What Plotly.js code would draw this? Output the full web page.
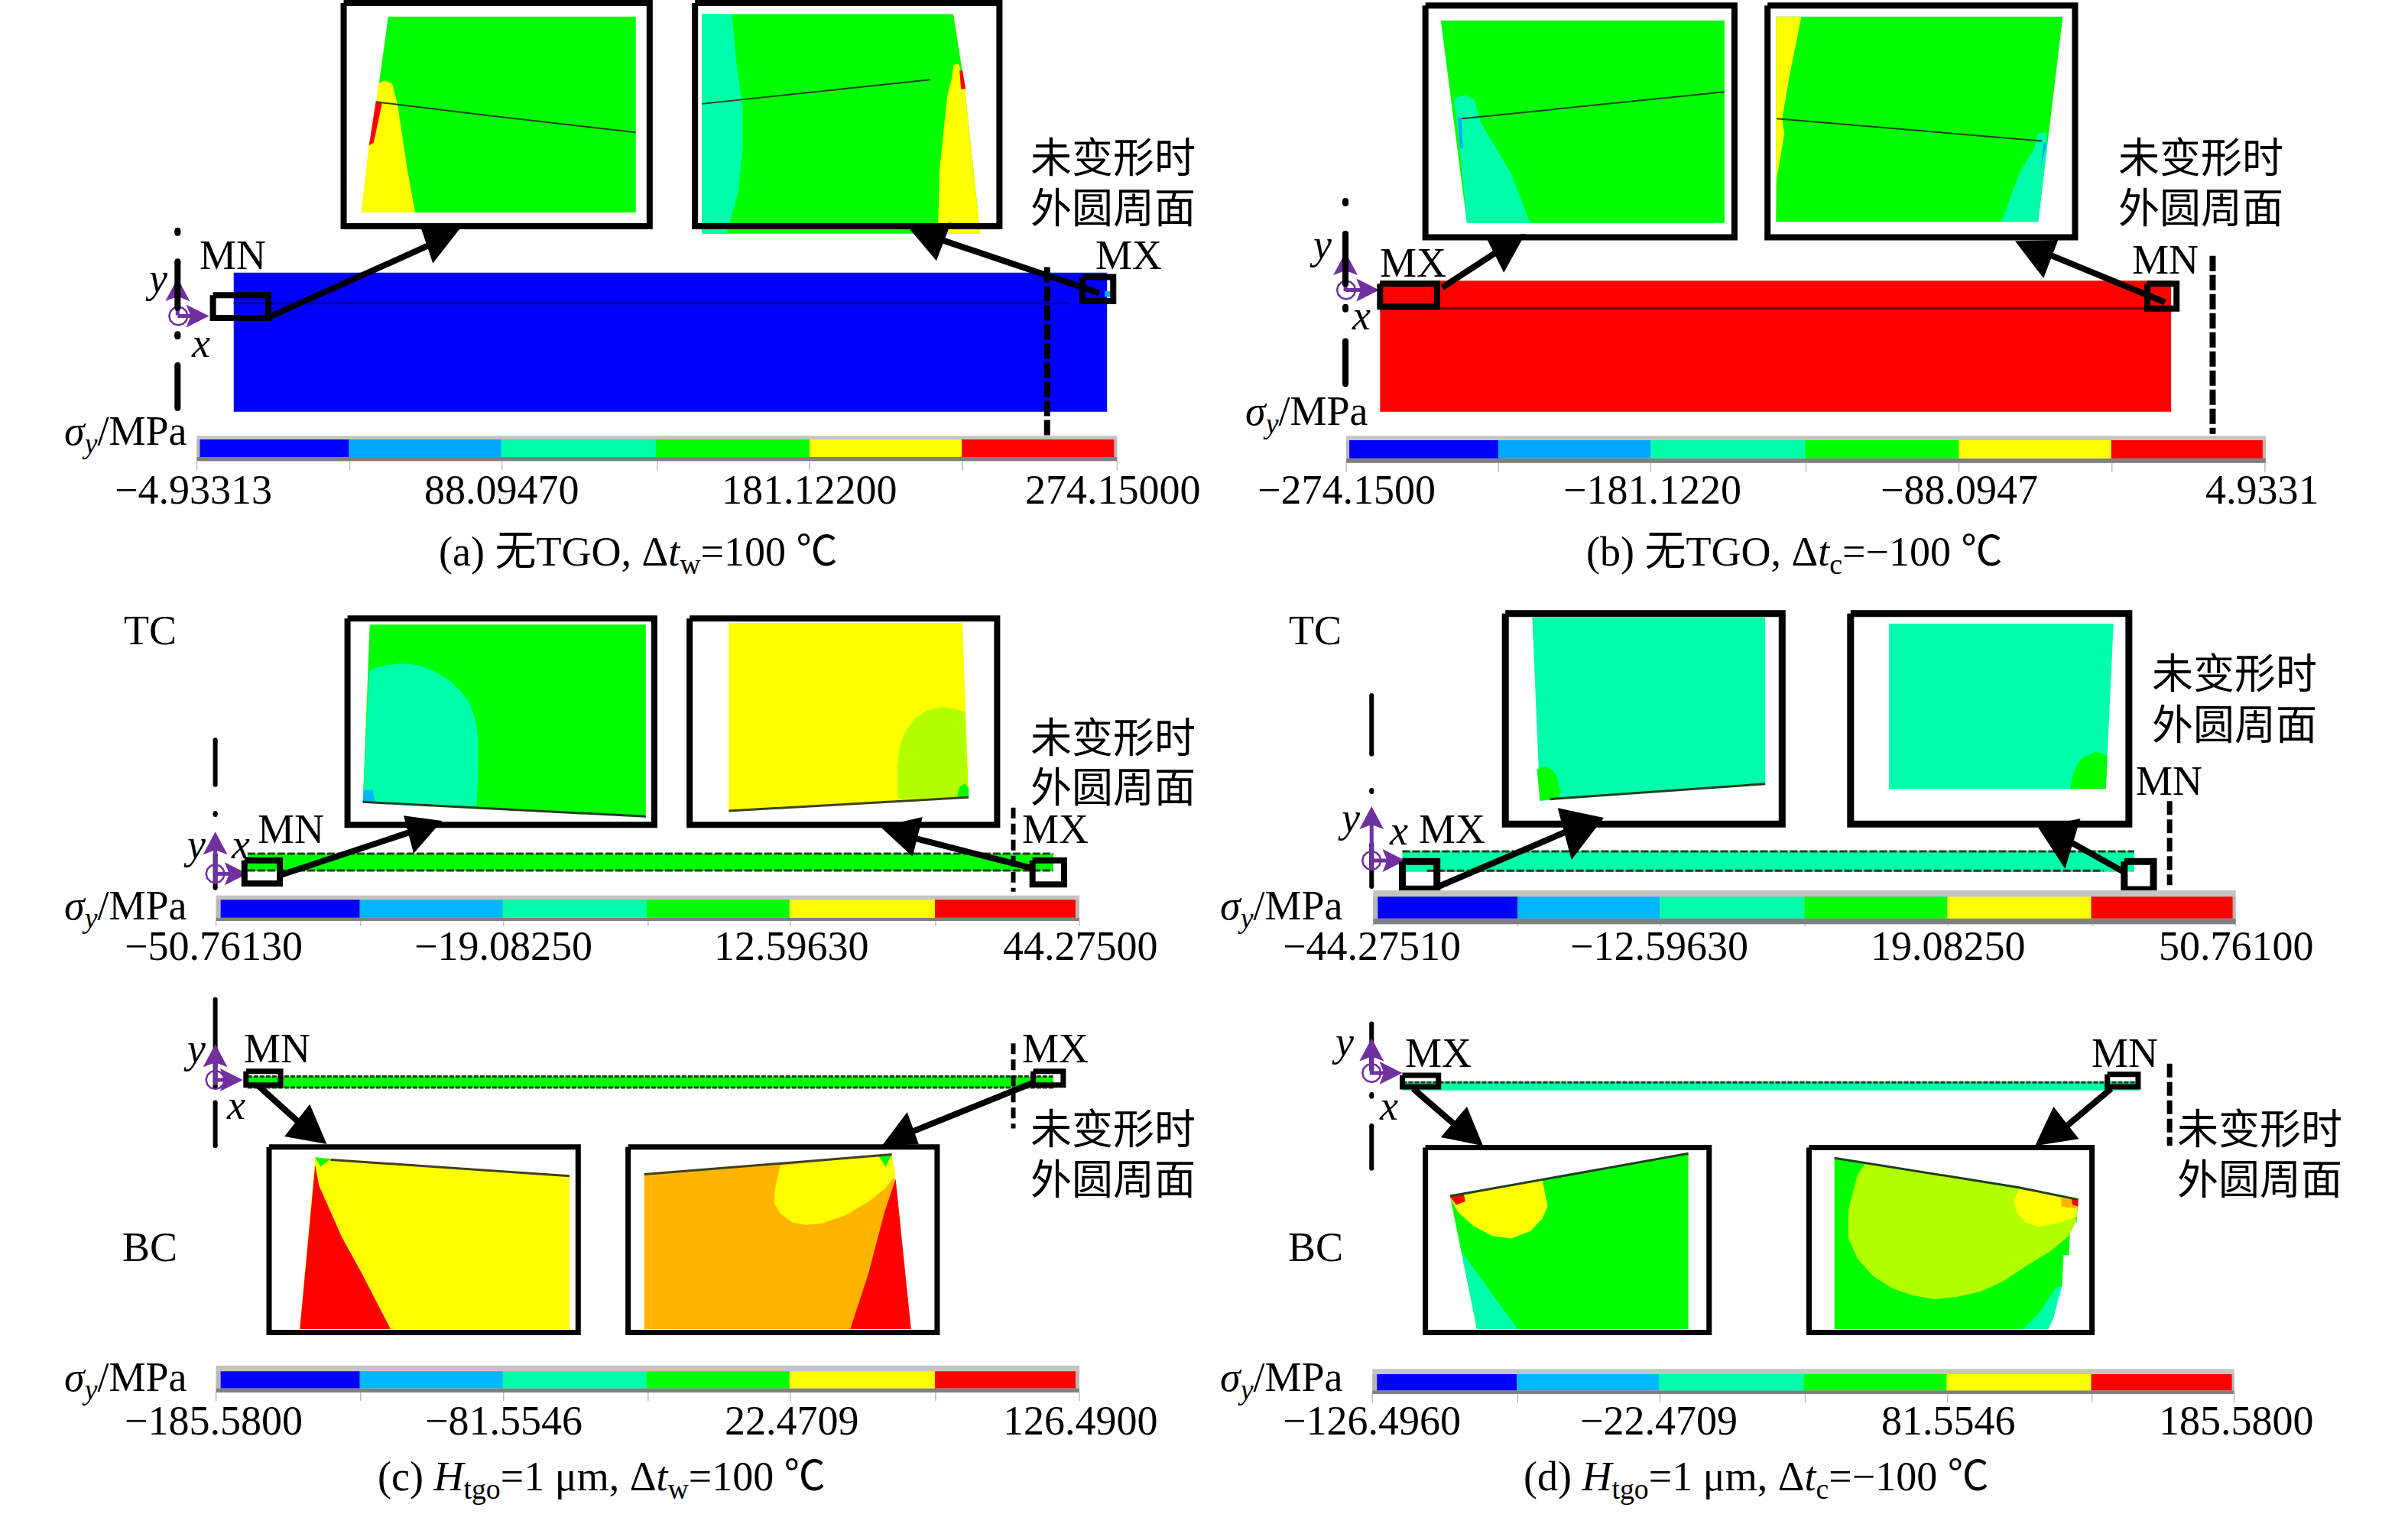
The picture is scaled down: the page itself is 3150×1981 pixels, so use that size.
<!DOCTYPE html>
<html><head><meta charset="utf-8">
<script src="https://cdn.plot.ly/plotly-3.0.1.min.js"></script>
<style>html,body{margin:0;padding:0;background:#fff}</style></head>
<body><div id="chart" style="width:3150px;height:1981px"></div>
<script>
// ---------- colours of the legend bands ----------
const BLUE='#0000ff',SKY='#00a8ff',SKY2='#00b6ff',TEAL='#00ffaa',GREEN='#00ff00',YEL='#ffff00',RED='#ff0000',LIME='#b2ff00',ORG='#ffb400';
const bandColorsA=[BLUE,SKY,TEAL,GREEN,YEL,RED];
const bandColorsC=[BLUE,SKY2,TEAL,GREEN,YEL,RED];
// ---------- tick labels ----------
const ticksA=['−4.93313','88.09470','181.12200','274.15000'];
const ticksB=['−274.1500','−181.1220','−88.0947','4.9331'];
const ticksCt=['−50.76130','−19.08250','12.59630','44.27500'];
const ticksDt=['−44.27510','−12.59630','19.08250','50.76100'];
const ticksCb=['−185.5800','−81.5546','22.4709','126.4900'];
const ticksDb=['−126.4960','−22.4709','81.5546','185.5800'];
// ---------- contour regions (crop coordinates) ----------
// panel a
const a1Green=[[505,45],[827,45],[827,573],[470,573],[490,270]];
const a1Yellow=[[492,225],[500,217],[510,225],[517,280],[530,460],[540,573],[470,573],[480,390],[490,270]];
const a1Red=[[489,272],[497,278],[486,385],[480,392]];
const a1Seam=[[490,275],[630,310],[827,357]];
const a2Green=[[913,38],[1240,38],[1250,170],[1255,240],[1275,630],[913,630]];
const a2Teal=[[913,38],[952,38],[958,170],[966,290],[966,400],[960,520],[945,630],[913,630]];
const a2Yellow=[[1240,175],[1247,172],[1251,200],[1255,240],[1275,630],[1220,630],[1222,460],[1232,260],[1238,210]];
const a2Red=[[1248,190],[1252,190],[1256,240],[1250,240]];
const a2Seam=[[913,280],[1210,215]];
const aBody=[[304,735],[1440,735],[1440,1110],[304,1110]];
const aSeam=[[304,818],[1390,818]];
const aSliver=[[1437,785],[1447,785],[1447,800],[1437,800]];
// panel b
const b1Green=[[308,55],[677,55],[677,601],[342,601]];
const b1Teal=[[325,265],[340,256],[352,270],[360,330],[400,470],[424,601],[342,601],[333,400]];
const b1Blue=[[330,315],[335,320],[337,400],[333,400]];
const b1Seam=[[335,320],[677,248]];
const b2Green=[[744,45],[1117,45],[1085,598],[744,598]];
const b2Yellow=[[744,45],[777,45],[762,200],[752,320],[755,360],[745,480],[744,598]];
const b2Teal=[[1085,360],[1095,356],[1097,390],[1085,598],[1037,598],[1060,470],[1080,400]];
const b2Blue=[[1092,385],[1096,385],[1088,460]];
const b2Seam=[[745,320],[1090,380]];
const bBody=[[229,757],[1258,757],[1258,1110],[229,1110]];
const bSeam=[[229,832],[1258,832]];
// panel c, TC
const c1Green=[[481,142],[840,142],[840,898],[472,838]];
const c1Teal=[[480,325],[488,312],[500,302],[520,295],[537,298],[552,308],[570,333],[585,362],[598,400],[610,445],[618,510],[622,580],[622,700],[620,855],[472,838],[476,600]];
const c1Sky=[[473,792],[485,792],[488,838],[472,838]];
const c1Seam=[[472,838],[840,895]];
const c2Yellow=[[948,135],[1252,135],[1260,820],[948,875]];
const c2Lime=[[1168,825],[1167,700],[1170,620],[1178,560],[1190,510],[1205,480],[1225,465],[1240,470],[1255,485],[1260,820]];
const c2Green=[[1245,820],[1248,780],[1255,765],[1260,785],[1260,818]];
const c2Seam=[[948,873],[1260,820]];
const cBody=[[322,1040],[1370,1040],[1370,1110],[322,1110]];
const cTop=[[322,1041],[1370,1041]];
const cBot=[[322,1107],[1370,1107]];
// panel d, TC
const d1Teal=[[427,113],[730,113],[730,765],[437,833]];
const d1Green=[[433,710],[438,702],[445,700],[452,712],[458,730],[464,800],[460,825],[437,833]];
const d1Seam=[[450,827],[730,767]];
const d2Teal=[[891,138],[1183,138],[1173,787],[891,787]];
const d2Green=[[1127,787],[1130,730],[1137,685],[1145,660],[1160,642],[1170,650],[1175,660],[1173,787]];
const dBody=[[258,1030],[1210,1030],[1210,1112],[258,1112]];
const dTop=[[258,1032],[1210,1032]];
const dBot=[[290,1108],[1170,1108]];
// panel c, BC
const c3Yellow=[[410,538],[741,592],[741,1033],[390,1033]];
const c3Red=[[410,560],[415,620],[445,770],[470,870],[508,1033],[390,1033]];
const c3Green=[[410,538],[430,543],[417,565]];
const c3Seam=[[430,545],[741,592]];
const c4Orange=[[838,587],[1160,530],[1185,1033],[838,1033]];
const c4Yellow=[[1015,562],[1160,530],[1165,590],[1150,630],[1130,665],[1100,705],[1070,728],[1048,733],[1030,725],[1015,700],[1007,670],[1008,630],[1012,590]];
const c4Red=[[1165,600],[1185,1033],[1106,1033],[1130,870],[1150,700]];
const c4Green=[[1142,532],[1160,530],[1152,565]];
const c4Seam=[[838,587],[1160,530]];
const ceBody=[[322,305],[1370,305],[1370,338],[322,338]];
const ceTop=[[322,305],[1370,305]];
const ceBot=[[322,337],[1370,337]];
// panel d, BC
const d3Green=[[320,650],[440,600],[630,527],[630,1033],[355,1033]];
const d3Yellow=[[320,655],[440,602],[447,680],[440,715],[425,750],[400,772],[375,765],[350,735],[330,695]];
const d3Red=[[320,652],[338,645],[340,665],[328,675]];
const d3Teal=[[335,810],[408,1033],[355,1033]];
const d3Seam=[[320,650],[440,603],[630,527]];
const d4Green=[[820,540],[1060,625],[1137,660],[1135,725],[1127,730],[1125,820],[1118,820],[1116,910],[1108,915],[1105,1000],[1098,1033],[820,1033]];
const d4Lime=[[860,555],[1060,625],[1122,660],[1135,720],[1125,765],[1100,810],[1070,850],[1040,895],[1010,925],[980,940],[950,947],[920,935],[895,915],[870,880],[850,830],[838,770],[838,690],[845,630],[850,590]];
const d4Yellow=[[1060,630],[1137,655],[1135,710],[1110,728],[1085,738],[1068,725],[1057,695],[1053,665]];
const d4Orange=[[1115,655],[1135,660],[1135,685],[1115,680]];
const d4Red=[[1128,655],[1137,660],[1137,680],[1130,675]];
const d4Teal=[[1108,915],[1116,910],[1105,1000],[1098,1033],[1065,1033],[1085,990]];
const d4Seam=[[820,540],[1060,625],[1137,660]];
const deBody=[[258,320],[1217,320],[1217,345],[258,345]];
const deTop=[[258,322],[1217,322]];

// ---------- crops the coordinates were read in ----------
const S=1.0057;
const C1={ox:0,oy:0,sy:.4853},C2={ox:1575,oy:0,sy:.4853};
const C3={ox:0,oy:770,sy:1/3},C4={ox:1575,oy:770,sy:1/3};
const C5={ox:0,oy:1270,sy:.454},C6={ox:1575,oy:1270,sy:.454};
const traces=[],notes=[];
const FONT='"Liberation Serif","Noto Sans CJK SC",serif';
const px=(c,x)=>c.ox+x*S, py=(c,y)=>c.oy+y*c.sy;
function poly(c,pts,col){traces.push({type:'scatter',mode:'lines',x:[...pts.map(p=>px(c,p[0])),px(c,pts[0][0])],y:[...pts.map(p=>py(c,p[1])),py(c,pts[0][1])],fill:'toself',fillcolor:col,line:{width:0,color:col},hoverinfo:'skip',showlegend:false});}
function line(c,pts,col,w,dash){traces.push({type:'scatter',mode:'lines',x:pts.map(p=>px(c,p[0])),y:pts.map(p=>py(c,p[1])),line:{color:col,width:w,dash:dash||'solid'},hoverinfo:'skip',showlegend:false});}
function seg(c,pts,w){traces.push({type:'scatter',mode:'lines+markers',x:pts.map(p=>px(c,p[0])),y:pts.map(p=>py(c,p[1])),line:{color:'#000',width:w},marker:{color:'#000',size:w,line:{width:0}},hoverinfo:'skip',showlegend:false});}
function box(c,x0,y0,x1,y1,w){line(c,[[x0,y0],[x1,y0],[x1,y1],[x0,y1],[x0,y0]],'#000',w);}
function txt(c,x,y,t,size){notes.push({xref:'x',yref:'y',x:px(c,x),y:py(c,y),text:t,showarrow:false,xanchor:'center',yanchor:'middle',font:{family:FONT,size:size||54,color:'#000'}});}
function arrow(c,from,to,head,w){line(c,[from,to],'#000',w||8);poly(c,head,'#000');}
function bar(c,x0,y0,x1,y1,by0,by1,edges,colors,tickX,tickEnd,labX,labY,labels){
  poly(c,[[x0,y0],[x1,y0],[x1,y1],[x0,y1]],'#c4c4c0');
  poly(c,[[x0,by1],[x1,by1],[x1,y1],[x0,y1]],'#808080');
  poly(c,[[x0,by0],[x1,by0],[x1,by1],[x0,by1]],'#b8b8b8');
  colors.forEach((col,i)=>poly(c,[[edges[i],by0],[edges[i+1],by0],[edges[i+1],by1],[edges[i],by1]],col));
  tickX.forEach(t=>line(c,[[t,y1],[t,tickEnd]],'#bdbdbd',1.5));
  labels.forEach((l,i)=>txt(c,labX[i],labY,l));
}
const ID={ox:0,oy:0,sy:1};
function rawPoly(pts,col){traces.push({type:'scatter',mode:'lines',x:[...pts.map(p=>p[0]),pts[0][0]],y:[...pts.map(p=>p[1]),pts[0][1]],fill:'toself',fillcolor:col,line:{width:0,color:col},hoverinfo:'skip',showlegend:false});}
function rawLine(pts,col,w){traces.push({type:'scatter',mode:'lines',x:pts.map(p=>p[0]),y:pts.map(p=>p[1]),line:{color:col,width:w},hoverinfo:'skip',showlegend:false});}
function purple(c,x,yc,yTop,xEnd,xc,cy){const P='#7030a0';
  const X=px(c,x),Yc=py(c,yc),Yt=py(c,yTop),Xe=px(c,xEnd),Xc=px(c,xc),Cy=py(c,cy);
  rawLine([[X,Yc],[X,Yt+20]],P,5);
  rawPoly([[X,Yt],[X+16,Yt+30],[X,Yt+24],[X-16,Yt+30]],P);
  rawLine([[X,Cy],[Xe-20,Cy]],P,5);
  rawPoly([[Xe,Cy],[Xe-30,Cy-15],[Xe-24,Cy],[Xe-30,Cy+15]],P);
  const r=12,ell=[[Xc+12,Cy],[Xc+10.4,Cy+6],[Xc+6,Cy+10.4],[Xc,Cy+12],[Xc-6,Cy+10.4],[Xc-10.4,Cy+6],[Xc-12,Cy],[Xc-10.4,Cy-6],[Xc-6,Cy-10.4],[Xc,Cy-12],[Xc+6,Cy-10.4],[Xc+10.4,Cy-6],[Xc+12,Cy]];
  rawLine(ell,P,2.5);
}
const tips=['未变形时','外圆周面'];
const sig='<i>σ</i><sub><i>y</i></sub>/MPa';
const CAP=54;

// ---- panel a ----
[[a1Green,GREEN],[a1Yellow,YEL],[a1Red,RED]].forEach(d=>poly(C1,d[0],d[1]));line(C1,a1Seam,'#204020',2);
[[a2Green,GREEN],[a2Teal,TEAL],[a2Yellow,YEL],[a2Red,RED]].forEach(d=>poly(C1,d[0],d[1]));line(C1,a2Seam,'#204020',2);
box(C1,447,8,845,610,8);box(C1,904,8,1300,610,8);
poly(C1,aBody,BLUE);line(C1,aSeam,'#0000a0',3);poly(C1,aSliver,SKY);
line(C1,[[1362,720],[1362,1185]],'#000',8,'20px,5px');
purple(C1,231,850,750,272,232,852);
[[[231,622],[231,628]],[[231,705],[231,830]],[[231,901],[231,907]],[[231,985],[231,1100]]].forEach(s=>seg(C1,s,8));
box(C1,277,796,349,857,8);box(C1,1408,747,1448,812,8);
arrow(C1,[350,855],[570,650],[[548,617],[598,617],[563,710]]);
arrow(C1,[1430,790],[1215,640],[[1183,617],[1237,600],[1218,703]]);
txt(C1,303,688,'MN');txt(C1,1468,688,'MX');txt(C1,203,750,'<i>y</i>');txt(C1,261,925,'<i>x</i>');
txt(C1,163,1170,sig);txt(C1,1448,428,tips[0]);txt(C1,1448,565,tips[1]);
bar(C1,256,1175,1453,1243,1185,1232,[260,454,652,853,1053,1251,1449],bandColorsA,[256,455,653,855,1053,1252,1453],1268,[252,653,1053,1448],1320,ticksA);
txt(C1,830,1495,'(a) 无TGO, Δ<i>t</i><sub>w</sub>=100 ℃',CAP);

// ---- panel b ----
[[b1Green,GREEN],[b1Teal,TEAL],[b1Blue,SKY]].forEach(d=>poly(C2,d[0],d[1]));line(C2,b1Seam,'#204020',2);
[[b2Green,GREEN],[b2Yellow,YEL],[b2Teal,TEAL],[b2Blue,SKY]].forEach(d=>poly(C2,d[0],d[1]));line(C2,b2Seam,'#204020',2);
box(C2,288,15,690,640,8);box(C2,733,15,1133,640,8);
poly(C2,bBody,RED);line(C2,bSeam,'#800000',3);
line(C2,[[1312,690],[1312,1170]],'#000',8,'20px,5px');
purple(C2,184,785,680,228,185,782);
[[[184,542],[184,548]],[[184,630],[184,765]],[[184,828],[184,834]],[[184,920],[184,1035]]].forEach(s=>seg(C2,s,8));
box(C2,229,765,303,827,8);box(C2,1227,765,1265,832,8);
arrow(C2,[310,775],[395,660],[[368,645],[418,630],[390,735]]);
arrow(C2,[1250,815],[1080,670],[[1055,650],[1111,647],[1092,750]]);
txt(C2,272,708,'MX');txt(C2,1250,700,'MN');txt(C2,152,660,'<i>y</i>');txt(C2,204,850,'<i>x</i>');
txt(C2,133,1115,sig);txt(C2,1297,428,tips[0]);txt(C2,1297,565,tips[1]);
bar(C2,185,1175,1381,1248,1187,1236,[189,383,581,782,982,1180,1377],bandColorsA,[185,383,581,783,982,1181,1380],1272,[185,583,982,1377],1320,ticksB);
txt(C2,768,1495,'(b) 无TGO, Δ<i>t</i><sub>c</sub>=−100 ℃',CAP);

// ---- panel c, TC ----
[[c1Green,GREEN],[c1Teal,TEAL],[c1Sky,SKY2]].forEach(d=>poly(C3,d[0],d[1]));line(C3,c1Seam,'#204020',3);
[[c2Yellow,YEL],[c2Lime,LIME],[c2Green,GREEN]].forEach(d=>poly(C3,d[0],d[1]));line(C3,c2Seam,'#404020',3);
box(C3,452,118,851,928,8);box(C3,897,118,1297,928,8);
poly(C3,cBody,GREEN);line(C3,cTop,'#204020',3,'10px,3px');line(C3,cBot,'#204020',3,'10px,3px');
[[[280,595],[280,770]],[[280,882],[280,888]],[[280,1045],[280,1175]]].forEach(s=>seg(C3,s,6));
line(C3,[[1318,860],[1318,1190]],'#000',6,'14px,7px');
purple(C3,280,1160,955,322,280,1120);
box(C3,318,1067,364,1158,8);box(C3,1343,1067,1384,1162,8);
arrow(C3,[365,1125],[555,935],[[525,892],[575,912],[538,1040]]);
arrow(C3,[1345,1100],[1170,965],[[1145,935],[1200,897],[1187,1052]]);
txt(C3,378,945,'MN');txt(C3,1373,945,'MX');txt(C3,253,1005,'<i>y</i>');txt(C3,313,1005,'<i>x</i>');txt(C3,195,165,'TC');
txt(C3,163,1255,sig);txt(C3,1448,590,tips[0]);txt(C3,1448,785,tips[1]);
bar(C3,281,1205,1404,1305,1222,1292,[287,468,654,841,1027,1216,1399],bandColorsC,[281,469,655,843,1028,1217,1404],1325,[278,655,1030,1405],1405,ticksCt);

// ---- panel d, TC ----
[[d1Teal,TEAL],[d1Green,GREEN]].forEach(d=>poly(C4,d[0],d[1]));line(C4,d1Seam,'#204020',3);
[[d2Teal,TEAL],[d2Green,GREEN]].forEach(d=>poly(C4,d[0],d[1]));
box(C4,392,98,752,925,9);box(C4,841,98,1203,925,9);
poly(C4,dBody,TEAL);line(C4,dTop,'#204020',3,'10px,3px');line(C4,dBot,'#204020',3,'10px,3px');
[[[218,420],[218,650]],[[218,792],[218,798]],[[218,1005],[218,1170]]].forEach(s=>seg(C4,s,6));
line(C4,[[1256,835],[1256,1165]],'#000',7,'18px,6px');
purple(C4,218,1105,855,262,218,1068);
box(C4,258,1072,303,1180,9);box(C4,1197,1072,1235,1182,9);
arrow(C4,[305,1170],[490,930],[[460,862],[520,900],[478,1065]]);
arrow(C4,[1195,1110],[1115,975],[[1085,938],[1140,903],[1120,1100]]);
txt(C4,323,945,'MX');txt(C4,1255,755,'MN');txt(C4,188,900,'<i>y</i>');txt(C4,253,950,'<i>x</i>');txt(C4,145,165,'TC');
txt(C4,100,1255,sig);txt(C4,1340,340,tips[0]);txt(C4,1340,540,tips[1]);
bar(C4,220,1185,1342,1318,1210,1295,[226,408,593,781,967,1154,1338],bandColorsC,[220,408,594,782,968,1156,1342],1325,[218,592,968,1343],1405,ticksDt);

// ---- panel c, BC ----
[[c3Yellow,YEL],[c3Red,RED],[c3Green,GREEN]].forEach(d=>poly(C5,d[0],d[1]));line(C5,c3Seam,'#404020',3);
[[c4Orange,ORG],[c4Yellow,YEL],[c4Red,RED],[c4Green,GREEN]].forEach(d=>poly(C5,d[0],d[1]));line(C5,c4Seam,'#404020',3);
box(C5,350,508,752,1043,7);box(C5,817,508,1219,1043,7);
poly(C5,ceBody,GREEN);line(C5,ceTop,'#204020',3,'6px,2px');line(C5,ceBot,'#204020',3,'6px,2px');
[[[280,83],[280,335]],[[280,380],[280,505]]].forEach(s=>seg(C5,s,6));
line(C5,[[1318,210],[1318,455]],'#000',6,'14px,7px');
purple(C5,280,330,212,316,280,315);
box(C5,320,290,365,330,7);box(C5,1344,290,1383,330,7);
arrow(C5,[335,330],[400,460],[[403,385],[425,500],[370,478]]);
arrow(C5,[1342,325],[1180,470],[[1180,408],[1195,500],[1147,505]]);
txt(C5,360,225,'MN');txt(C5,1373,225,'MX');txt(C5,253,225,'<i>y</i>');txt(C5,307,388,'<i>x</i>');txt(C5,195,798,'BC');
txt(C5,163,1180,sig);txt(C5,1448,460,tips[0]);txt(C5,1448,605,tips[1]);
bar(C5,281,1138,1404,1216,1155,1204,[287,468,654,841,1027,1216,1399],bandColorsC,[281,469,655,843,1028,1217,1404],1240,[278,655,1030,1405],1298,ticksCb);
txt(C5,783,1465,'(c) <i>H</i><sub>tgo</sub>=1 μm, Δ<i>t</i><sub>w</sub>=100 ℃',CAP);

// ---- panel d, BC ----
[[d3Green,GREEN],[d3Yellow,YEL],[d3Red,RED],[d3Teal,TEAL]].forEach(d=>poly(C6,d[0],d[1]));line(C6,d3Seam,'#204020',3);
[[d4Green,GREEN],[d4Lime,LIME],[d4Yellow,YEL],[d4Orange,ORG],[d4Red,RED],[d4Teal,TEAL]].forEach(d=>poly(C6,d[0],d[1]));line(C6,d4Seam,'#204020',3);
box(C6,288,510,657,1043,7);box(C6,787,510,1155,1043,7);
poly(C6,deBody,TEAL);line(C6,deTop,'#204020',3,'6px,2px');
[[[218,153],[218,285]],[[218,357],[218,363]],[[218,447],[218,570]]].forEach(s=>seg(C6,s,6));
line(C6,[[1256,268],[1256,505]],'#000',7,'18px,6px');
purple(C6,218,300,195,258,218,295);
box(C6,258,302,305,335,7);box(C6,1175,299,1215,335,7);
arrow(C6,[272,340],[345,480],[[342,392],[363,505],[308,480]]);
arrow(C6,[1180,340],[1105,480],[[1105,392],[1138,485],[1081,505]]);
txt(C6,305,238,'MX');txt(C6,1198,238,'MN');txt(C6,180,205,'<i>y</i>');txt(C6,240,390,'<i>x</i>');txt(C6,145,798,'BC');
txt(C6,100,1180,sig);txt(C6,1373,460,tips[0]);txt(C6,1373,605,tips[1]);
bar(C6,219,1148,1340,1220,1163,1210,[225,407,592,780,966,1154,1337],bandColorsC,[219,408,593,782,967,1155,1340],1245,[218,592,968,1343],1298,ticksDb);
txt(C6,718,1465,'(d) <i>H</i><sub>tgo</sub>=1 μm, Δ<i>t</i><sub>c</sub>=−100 ℃',CAP);

Plotly.newPlot('chart',traces,{
  width:3150,height:1981,margin:{l:0,r:0,t:0,b:0},showlegend:false,
  paper_bgcolor:'#fff',plot_bgcolor:'#fff',
  xaxis:{range:[0,3150],visible:false,fixedrange:true},
  yaxis:{range:[1981,0],visible:false,fixedrange:true},
  annotations:notes
},{staticPlot:true,displayModeBar:false});
</script></body></html>
